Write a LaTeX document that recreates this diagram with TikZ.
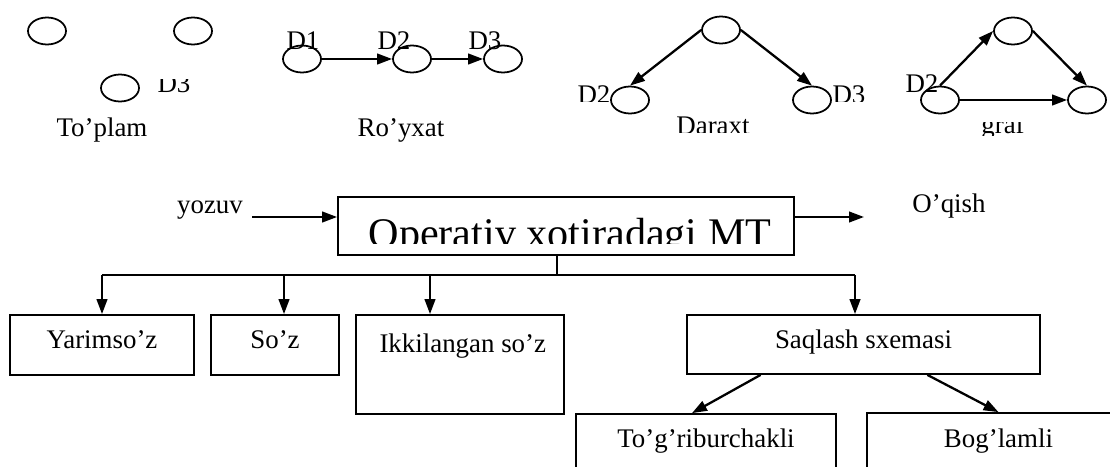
\documentclass[tikz,border=0pt]{standalone}
\usepackage{fontspec}
\setmainfont{Liberation Serif}
\usetikzlibrary{arrows.meta,shapes.geometric,positioning,calc}

\begin{document}
\begin{tikzpicture}[x=0.2mm,y=-0.2mm,>={Triangle[length=8.5pt,width=6pt]},semithick]
\tikzstyle{elem}=[draw,ellipse,inner sep=0pt,minimum width=7.6mm,minimum height=5.4mm,line width=1pt]
\tikzstyle{lbl}=[inner sep=0pt,font=\fontsize{15.3}{18}\selectfont]
\tikzstyle{box}=[draw,line width=1pt,inner sep=0pt,font=\fontsize{15.3}{18}\selectfont,text height=0.7em,text depth=0.25em]
\tikzstyle{link}=[->,line width=1.3pt]

\useasboundingbox (0,0) rectangle (1110,467);

% To'plam: elementlar bog'lanmagan
\node[elem] (s1) at (47,31) {};
\node[elem] (s2) at (193,31) {};
\node[elem] (s3) at (120,88) {};
\begin{scope}
\clip (150,80) rectangle (200,100);
\node[lbl,anchor=base west] (s3lbl) at (157,93) {D3};
\end{scope}
\node[lbl,anchor=base] (toplam) at (102,137) {To’plam};

% Ro'yxat: zanjir
\node[elem] (r1) at (302,59) {};
\node[elem] (r2) at (412,59) {};
\node[elem] (r3) at (503,59) {};
\node[lbl,anchor=base west] (r1lbl) at (286,50) {D1};
\node[lbl,anchor=base west] (r2lbl) at (377,50) {D2};
\node[lbl,anchor=base west] (r3lbl) at (468,50) {D3};
\path[link]
(r1) edge (r2)
(r2) edge (r3);
\node[lbl,anchor=base] (royxat) at (401,137) {Ro’yxat};

% Daraxt
\node[elem] (d0) at (721,30) {};
\node[elem] (d1) at (630,100) {};
\node[elem] (d2) at (812,100) {};
\begin{scope}
\clip (570,80) rectangle (870,102);
\node[lbl,anchor=base west] (d1lbl) at (577,104) {D2};
\node[lbl,anchor=base west] (d2lbl) at (832,104) {D3};
\end{scope}
\path[link]
(d0.west) edge (d1.north)
(d0.east) edge (d2.north);
\begin{scope}
\clip (670,110) rectangle (760,133);
\node[lbl,anchor=base] (daraxt) at (713,135) {Daraxt};
\end{scope}

% Graf
\node[elem] (g0) at (1013,31) {};
\node[elem] (g1) at (940,100) {};
\node[elem] (g2) at (1087,100) {};
\node[lbl,anchor=base west] (g1lbl) at (905,93) {D2};
\path[link]
(g1.north) edge (g0.west)
(g0.east) edge (g2.north)
(g1) edge (g2);
\begin{scope}
\clip (975,123) rectangle (1035,136);
\node[lbl,anchor=base] (graf) at (1003,134) {graf};
\end{scope}

% Operativ xotira bloki
\node[box,minimum width=91.2mm,minimum height=11.6mm] (mt) at (566,226) {};
\begin{scope}
\clip (340,199) rectangle (792,243);
\node[inner sep=0pt,anchor=base,font=\fontsize{24}{29}\selectfont] (mttxt) at (570,247) {Operativ xotiradagi MT};
\end{scope}
\node[lbl,anchor=base] (yozuv) at (210,213) {yozuv};
\node[lbl,anchor=base] (oqish) at (949,212) {O’qish};
\coordinate (in) at (252,217);
\coordinate (out) at (864,217);
\draw[link] (in) -- (in -| mt.west);
\draw[link] (mt.east |- out) -- (out);

% Quyi bloklar
\node[box,minimum width=36.8mm,minimum height=12mm] (yarim) at (102,345) {Yarimso’z};
\node[box,minimum width=25.6mm,minimum height=12mm] (soz) at (275,345) {So’z};
\node[box,minimum width=41.6mm,minimum height=19.8mm] (ikki) at (460,364.5) {};
\node[lbl,anchor=base west] (ikkitxt) at (379,352) {Ikkilangan so’z};
\node[box,minimum width=70.6mm,minimum height=11.8mm] (saq) at (863.5,344.5) {Saqlash sxemasi};
\node[box,minimum width=52mm,minimum height=12mm] (tog) at (706,444) {To’g’riburchakli};
\node[box,minimum width=52.6mm,minimum height=12.2mm] (bog) at (998.5,443.5) {Bog’lamli};

% Shina va tarmoqlar
\coordinate (bus) at (557,275);
\coordinate (b1) at (102,275);
\coordinate (b2) at (284,275);
\coordinate (b3) at (430,275);
\coordinate (b4) at (855,275);
\draw[line width=1.1pt] (bus |- mt.south) -- (bus);
\draw[line width=1.1pt] (b1) -- (b4);
\foreach \b/\n in {b1/yarim,b2/soz,b3/ikki,b4/saq}
  \draw[link] (\b) -- (\b |- \n.north);

\draw[link] ($(saq.south west)!0.21!(saq.south east)$) -- ($(tog.north)+(-14,0)$);
\draw[link] ($(saq.south west)!0.68!(saq.south east)$) -- (bog.north);
\end{tikzpicture}
\end{document}
